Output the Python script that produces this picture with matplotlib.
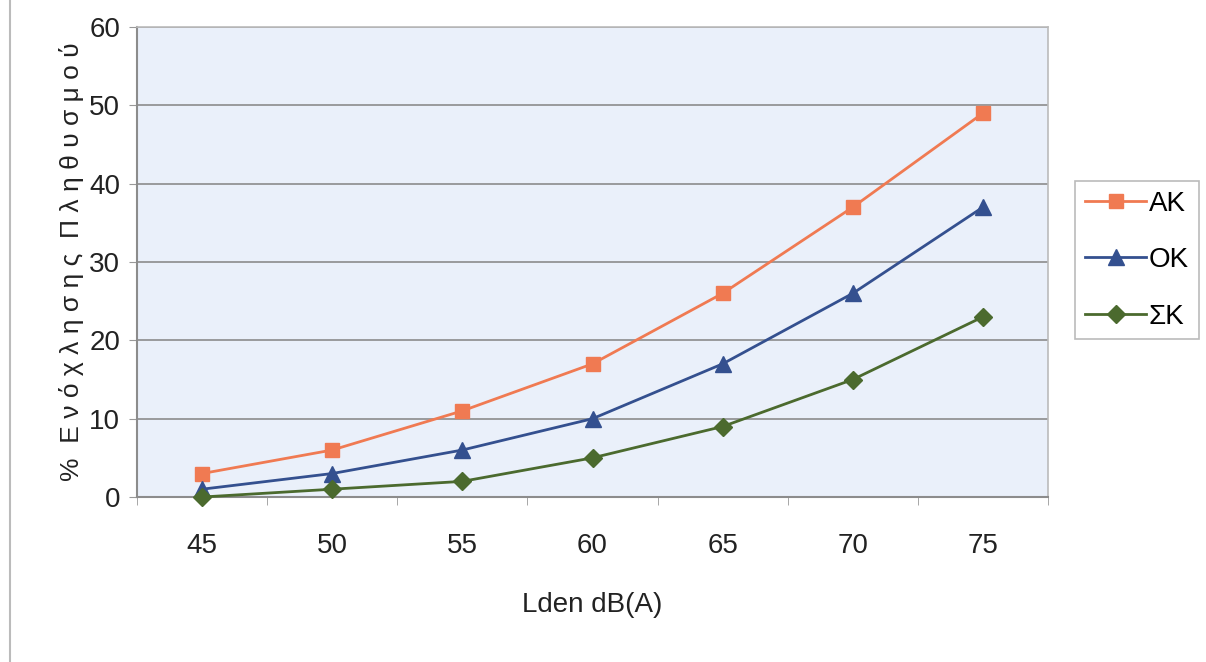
import matplotlib
matplotlib.use("Agg")
import matplotlib.pyplot as plt
from matplotlib.lines import Line2D

# data
lden = ["45", "50", "55", "60", "65", "70", "75"]
ak = [3, 6, 11, 17, 26, 37, 49]
ok = [1, 3, 6, 10, 17, 26, 37]
sk = [0, 1, 2, 5, 9, 15, 23]

plt.rcParams['font.family'] = ['Liberation Sans', 'DejaVu Sans']

fig = plt.figure(figsize=(12.06, 6.62), dpi=100)
ax = fig.add_axes([0.1136, 0.2492, 0.869 - 0.1136, 0.9592 - 0.2492])
ax.set_facecolor('#EAF0FA')

x = list(range(len(lden)))
ax.plot(x, ak, color='#F07A52', lw=2, marker='s', ms=10, label='AK', zorder=3)
ax.plot(x, ok, color='#34508F', lw=2, marker='^', ms=11, label='OK', zorder=3)
ax.plot(x, sk, color='#4B6A2E', lw=2, marker='D', ms=9, label='ΣK', zorder=3, clip_on=False)

ax.set_xlim(-0.5, len(lden) - 0.5)
ax.set_ylim(0, 60)
ax.set_yticks(range(0, 61, 10))
ax.set_xticks(x)
ax.set_xticklabels(lden)
ax.set_xticks([i - 0.5 for i in range(len(lden) + 1)], minor=True)
ax.tick_params(axis='x', which='major', length=0, pad=26, labelsize=20, labelcolor='#222222')
ax.tick_params(axis='x', which='minor', length=6, color='#999999', direction='out')
ax.tick_params(axis='y', length=6, color='#999999', labelsize=20, labelcolor='#222222', pad=6)

ax.grid(axis='y', color='#8C8C8C', lw=1.2, zorder=1)
ax.set_axisbelow(True)
for side in ['left', 'bottom']:
    ax.spines[side].set_color('#8C8C8C')
    ax.spines[side].set_linewidth(1.5)
for side in ['top', 'right']:
    ax.spines[side].set_color('#BBBBBB')
    ax.spines[side].set_linewidth(1.2)

ax.set_xlabel('Lden dB(A)', fontsize=20, color='#222222', labelpad=24)
ax.set_ylabel('%  Ε ν ό χ λ η σ η ς  Π λ η θ υ σ μ ο ύ', fontsize=19, color='#222222', labelpad=4)

leg = ax.legend(loc='center left', bbox_to_anchor=(1.03, 0.504), fontsize=20, frameon=True,
                fancybox=False, edgecolor='#AAAAAA', handlelength=2.2, handletextpad=0.1,
                labelspacing=1.1, borderpad=0.35, borderaxespad=0)
leg.get_frame().set_linewidth(1.2)

fig.add_artist(Line2D([10 / 1206, 10 / 1206], [0, 1], color='#BBBBBB', lw=1.5))

fig.savefig('out.png', dpi=100)
